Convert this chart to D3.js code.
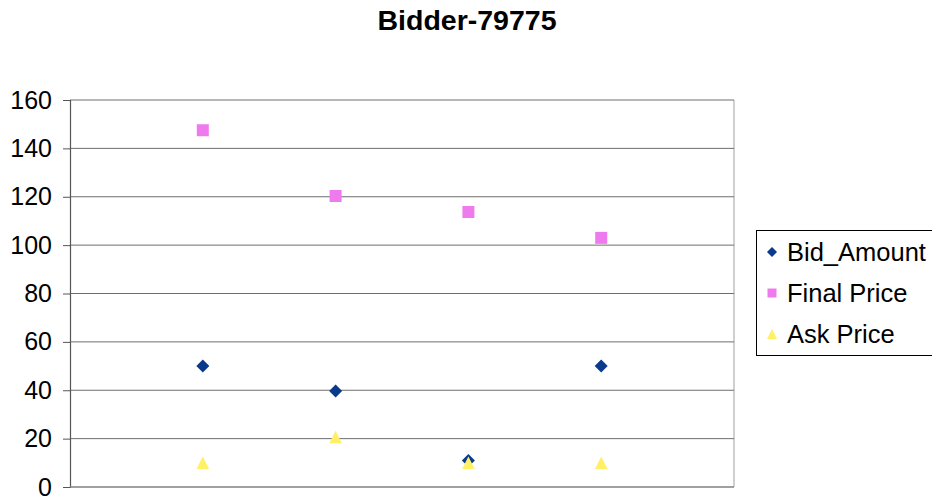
<!DOCTYPE html>
<html>
<head>
<meta charset="utf-8">
<script src="https://cdn.jsdelivr.net/npm/d3@7"></script>
<style>
  html, body { margin: 0; padding: 0; background: #fff; }
  svg { display: block; font-family: "Liberation Sans", Arial, sans-serif; }
</style>
</head>
<body>
<svg id="chart" width="932" height="498"></svg>
<script>
// Four auctions for one bidder, plotted by index
const auctionIndex = [1, 2, 3, 4];
const bidAmount  = [50, 39.7, 11, 50];
const finalPrice = [147.5, 120.3, 113.7, 103];
const askPrice   = [10, 20.7, 10, 10];
const yTicks     = [0, 20, 40, 60, 80, 100, 120, 140, 160];
const seriesNames = ["Bid_Amount", "Final Price", "Ask Price"];

const svg = d3.select("#chart");
const plot = { left: 70, right: 734, top: 100, bottom: 487 };

const x = d3.scaleLinear().domain([0, 5]).range([plot.left, plot.right]);
const y = d3.scaleLinear().domain([0, 160]).range([plot.bottom, plot.top]);

// Title
svg.append("text")
  .attr("x", 467).attr("y", 30)
  .attr("text-anchor", "middle")
  .attr("font-weight", "bold")
  .attr("font-size", 28.5)
  .text("Bidder-79775");

// Plot area right border
svg.append("line")
  .attr("x1", plot.right).attr("x2", plot.right)
  .attr("y1", plot.top).attr("y2", plot.bottom)
  .attr("stroke", "#c0c0c0").attr("stroke-width", 1.5);

// Horizontal gridlines
svg.append("g").selectAll("line").data(yTicks.filter(d => d > 0)).join("line")
  .attr("x1", plot.left).attr("x2", plot.right)
  .attr("y1", d => y(d)).attr("y2", d => y(d))
  .attr("stroke", "#6e6e6e").attr("stroke-width", 1);

// Y axis
const yAxis = d3.axisLeft(y).tickValues(yTicks).tickSize(7).tickPadding(11);
const gy = svg.append("g").attr("transform", `translate(${plot.left},0)`).call(yAxis);
gy.select(".domain").attr("stroke", "#555").attr("stroke-width", 1.2);
gy.selectAll(".tick line").attr("stroke", "#555");
gy.selectAll(".tick text")
  .attr("font-family", "Liberation Sans, Arial, sans-serif")
  .attr("font-size", 25).attr("fill", "#000");

// Bottom axis line
svg.append("line")
  .attr("x1", plot.left).attr("x2", plot.right)
  .attr("y1", plot.bottom).attr("y2", plot.bottom)
  .attr("stroke", "#808080").attr("stroke-width", 1.5);

// Marker shapes
const shapes = {
  diamond: (cx, cy, r) => `M${cx},${cy - r}L${cx + r},${cy}L${cx},${cy + r}L${cx - r},${cy}Z`,
  square:  (cx, cy, r) => `M${cx - r},${cy - r}h${2 * r}v${2 * r}h${-2 * r}Z`,
  triangle:(cx, cy, r) => `M${cx},${cy - r}L${cx + r},${cy + r}L${cx - r},${cy + r}Z`
};

const series = [
  { name: seriesNames[0], values: bidAmount,  color: "#0a3a8c", shape: "diamond",  r: 6.5 },
  { name: seriesNames[1], values: finalPrice, color: "#ee7aee", shape: "square",   r: 6 },
  { name: seriesNames[2], values: askPrice,   color: "#fff066", shape: "triangle", r: 6.3 }
];

series.forEach(s => {
  svg.append("g").selectAll("path").data(s.values).join("path")
    .attr("d", (v, i) => shapes[s.shape](x(auctionIndex[i]), y(v), s.r))
    .attr("fill", s.color);
});

// Legend
const legend = svg.append("g");
legend.append("rect")
  .attr("x", 756.5).attr("y", 230.5).attr("width", 200).attr("height", 125)
  .attr("fill", "#fff").attr("stroke", "#000").attr("stroke-width", 1);

series.forEach((s, i) => {
  const cy = 252 + i * 41;
  legend.append("path")
    .attr("d", shapes[s.shape](772, cy, s.shape === "square" ? 4.5 : 5))
    .attr("fill", s.color);
  legend.append("text")
    .attr("x", 787).attr("y", cy + 8.5)
    .attr("font-size", 25.5)
    .text(s.name);
});
</script>
</body>
</html>
